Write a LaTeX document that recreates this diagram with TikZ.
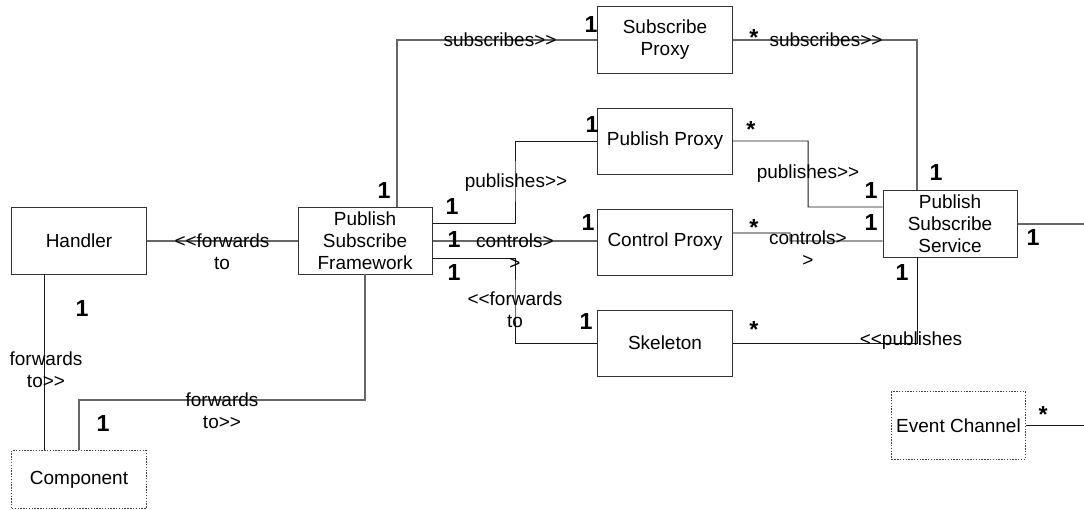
\documentclass[tikz,border=0pt]{standalone}
\usepackage{fontspec}
\setmainfont{Liberation Sans}
\usetikzlibrary{positioning}

% keep << and >> as two characters
\newcommand\dlt{<\kern0pt<}
\newcommand\dgt{>\kern0pt>}

\begin{document}
\begin{tikzpicture}[
    x=0.025cm, y=-0.025cm,
    node distance=0.85cm and 3.775cm,
    font=\fontsize{13.5}{15.6}\selectfont,
    cls/.style={rectangle, draw=black!80, fill=white, line width=0.7pt,
        minimum width=3.35cm, minimum height=1.65cm, align=center, inner sep=1pt},
    extcls/.style={cls, draw=black!75, dash pattern=on 1pt off 1pt},
    assoc/.style={draw=black!60, line width=0.9pt},
    assocdark/.style={draw=black!90, line width=0.7pt},
    role/.style={align=center, inner sep=0pt},
    mult/.style={font=\fontsize{16.5}{16.5}\selectfont\bfseries, inner sep=0pt},
    mstar/.style={mult, yshift=-0.12cm},
]

% ── Background / margins ──
\useasboundingbox (0,0) rectangle (1084,510);

% ── Classes ──
\node[cls] (handler) at (79,241) {Handler};
\node[cls, right=of handler] (framework) {Publish\\Subscribe\\Framework};
\node[extcls, minimum height=1.45cm] (component) at (79,479.5) {Component};

\node[cls] (subproxy) at (665,40) {Subscribe\\Proxy};
\node[cls, below=of subproxy] (pubproxy) {Publish Proxy};
\node[cls, below=of pubproxy] (ctrlproxy) {Control Proxy};
\node[cls, below=of ctrlproxy] (skeleton) {Skeleton};

\node[cls] (service) at (950,224) {Publish\\Subscribe\\Service};
\node[extcls, minimum height=1.675cm] (eventch) at (958.5,425.5) {Event Channel};

% ── Bend points and cut-off ends ──
\coordinate (subbend) at (397,40);
\coordinate (pubbend) at (515,180);
\coordinate (skelbend) at (515,300);
\coordinate (compbend) at (79,400);
\coordinate (pubbendR) at (808,207);
\coordinate (ctrlstep) at (790,241);
\coordinate (serviceout) at (1084,224);
\coordinate (channelout) at (1084,425.5);

% ── Associations ──
\draw[assoc] (handler.east) -- (framework.west);
\draw[assocdark] ([xshift=-0.85cm]handler.south) -- ([xshift=-0.85cm]component.north);
\draw[assoc] (framework.south) |- (compbend) -- (component.north);

\draw[assoc] (framework.north -| subbend) |- (subproxy.west);
\draw[assocdark] ([yshift=0.45cm]framework.east) -| (pubbend) |- (pubproxy.west);
\draw[assoc] (framework.east) -- (framework.east -| ctrlproxy.west);
\draw[assocdark] ([yshift=-0.425cm]framework.east) -| (skelbend) |- (skeleton.west);

\draw[assoc] (subproxy.east) -| ([xshift=-0.825cm]service.north);
\draw[assocdark] (pubproxy.east) -| (pubbendR) -- ([yshift=0.425cm]service.west);
\draw[assoc] ([yshift=0.225cm]ctrlproxy.east) -| (ctrlstep) -- ([yshift=-0.425cm]service.west);
\draw[assocdark] ([xshift=-0.825cm]service.south) |- (skeleton.east);

\draw[assoc] (service.east) -- (serviceout);
\draw[assocdark] (eventch.east) -- (channelout);

% ── Role names ──
\node[role] (rhf) at (222,252) {\dlt forwards\\to};
\node[role] (rhc) at (46,370) {forwards\\to\dgt};
\node[role] (rfc) at (222,411) {forwards\\to\dgt};
\node[role] (rfs) at (500,40) {subscribes\dgt};
\node[role] (rfp) at (516,183) {publishes\dgt};
\node[role] (rfctl) at (515,252) {controls>\\>};
\node[role] (rfsk) at (515,310) {\dlt forwards\\to};
\node[role] (rss) at (826,40) {subscribes\dgt};
\node[role] (rps) at (808,174) {publishes\dgt};
\node[role] (rcs) at (808,249) {controls>\\>};
\node[role] (rks) at (911,341) {\dlt publishes};

% ── Multiplicities ──
\node[mult] (m1) at (82,309) {1};
\node[mult] (m2) at (103,424) {1};
\node[mult] (m3) at (384,191) {1};
\node[mult] (m4) at (591,25) {1};
\node[mult] (m5) at (452,207) {1};
\node[mult] (m6) at (592,125) {1};
\node[mult] (m7) at (454,240) {1};
\node[mult] (m8) at (588,223) {1};
\node[mult] (m9) at (454,273) {1};
\node[mult] (m10) at (586,322) {1};
\node[mult] (m11) at (936,173) {1};
\node[mult] (m12) at (871,191) {1};
\node[mult] (m13) at (871,223) {1};
\node[mult] (m14) at (902,273) {1};
\node[mult] (m15) at (1033,238) {1};
\node[mstar] (s1) at (754,33) {*};
\node[mstar] (s2) at (751,125) {*};
\node[mstar] (s3) at (754,223) {*};
\node[mstar] (s4) at (754,325) {*};
\node[mstar] (s5) at (1043,410) {*};

\end{tikzpicture}
\end{document}
